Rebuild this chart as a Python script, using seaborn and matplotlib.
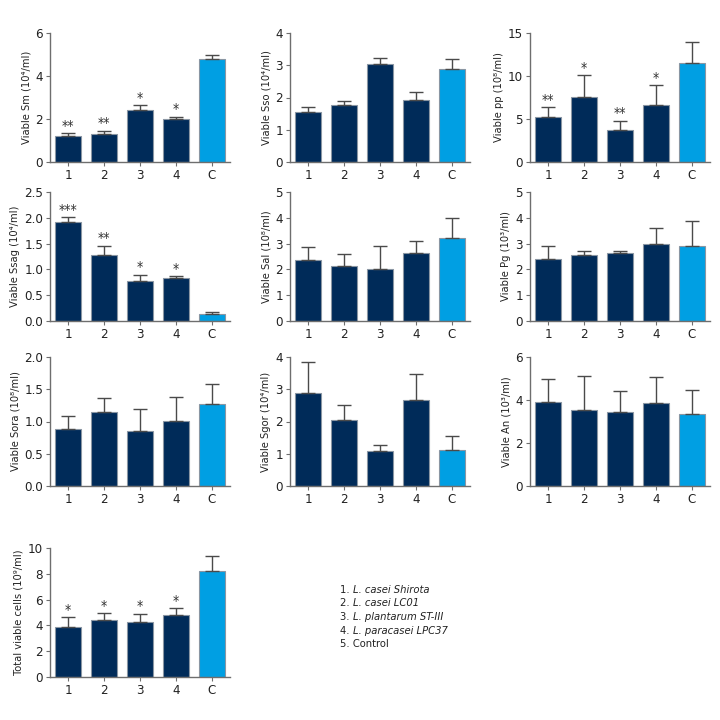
import numpy as np
import pandas as pd
import matplotlib
matplotlib.use('Agg')
import matplotlib.pyplot as plt
import seaborn as sns

groups = ['1', '2', '3', '4', 'C']

sm_mean = [1.2, 1.3, 2.4, 2.0, 4.8]
sm_top = [1.35, 1.45, 2.65, 2.1, 5.0]
sm_sig = ['**', '**', '*', '*', '']

sso_mean = [1.55, 1.78, 3.03, 1.92, 2.88]
sso_top = [1.72, 1.88, 3.23, 2.17, 3.2]
sso_sig = ['', '', '', '', '']

pp_mean = [5.2, 7.6, 3.7, 6.6, 11.5]
pp_top = [6.4, 10.1, 4.8, 8.9, 13.9]
pp_sig = ['**', '*', '**', '*', '']

ssag_mean = [1.92, 1.27, 0.78, 0.84, 0.14]
ssag_top = [2.01, 1.46, 0.90, 0.87, 0.17]
ssag_sig = ['***', '**', '*', '*', '']

sal_mean = [2.35, 2.13, 2.03, 2.65, 3.2]
sal_top = [2.88, 2.58, 2.92, 3.12, 4.0]
sal_sig = ['', '', '', '', '']

pg_mean = [2.4, 2.55, 2.62, 2.98, 2.9]
pg_top = [2.92, 2.73, 2.7, 3.62, 3.88]
pg_sig = ['', '', '', '', '']

sora_mean = [0.89, 1.15, 0.86, 1.01, 1.27]
sora_top = [1.09, 1.36, 1.2, 1.38, 1.58]
sora_sig = ['', '', '', '', '']

sgor_mean = [2.87, 2.05, 1.1, 2.68, 1.13]
sgor_top = [3.83, 2.52, 1.28, 3.47, 1.56]
sgor_sig = ['', '', '', '', '']

an_mean = [3.9, 3.55, 3.45, 3.88, 3.33]
an_top = [5.0, 5.1, 4.42, 5.07, 4.45]
an_sig = ['', '', '', '', '']

tot_mean = [3.9, 4.45, 4.25, 4.8, 8.2]
tot_top = [4.65, 4.95, 4.9, 5.35, 9.4]
tot_sig = ['*', '*', '*', '*', '']

legend_lines = ['1. ', '2. ', '3. ', '4. ', '5. Control']
legend_names = ['L. casei Shirota', 'L. casei LC01', 'L. plantarum ST-III', 'L. paracasei LPC37', '']

panels = [
    ('Viable Sm (10⁴/ml)', sm_mean, sm_top, sm_sig, 6, 2, '{:.0f}'),
    ('Viable Sso (10⁴/ml)', sso_mean, sso_top, sso_sig, 4, 1, '{:.0f}'),
    ('Viable pp (10⁸/ml)', pp_mean, pp_top, pp_sig, 15, 5, '{:.0f}'),
    ('Viable Ssag (10⁴/ml)', ssag_mean, ssag_top, ssag_sig, 2.5, 0.5, '{:.1f}'),
    ('Viable Sal (10⁸/ml)', sal_mean, sal_top, sal_sig, 5, 1, '{:.0f}'),
    ('Viable Pg (10³/ml)', pg_mean, pg_top, pg_sig, 5, 1, '{:.0f}'),
    ('Viable Sora (10⁸/ml)', sora_mean, sora_top, sora_sig, 2.0, 0.5, '{:.1f}'),
    ('Viable Sgor (10⁴/ml)', sgor_mean, sgor_top, sgor_sig, 4, 1, '{:.0f}'),
    ('Viable An (10³/ml)', an_mean, an_top, an_sig, 6, 2, '{:.0f}'),
    ('Total viable cells (10⁹/ml)', tot_mean, tot_top, tot_sig, 10, 2, '{:.0f}'),
]

sns.set_theme(style='ticks')
plt.rcParams['font.family'] = ['DejaVu Sans']
plt.rcParams['font.stretch'] = 'condensed'

navy = '#002b59'
light = '#009fe3'
axis_grey = '#6e6e6e'
palette = {g: navy for g in groups[:4]}
palette['C'] = light

fig = plt.figure(figsize=(7.2, 7.2), dpi=100)

col_left = [50, 290, 530]
row_bottom = [162, 321, 486, 677]
ax_w, ax_h = 180, 129

for i, (label, mean, top, sig, ymax, step, fmt) in enumerate(panels):
    r, c = divmod(i, 3)
    ax = fig.add_axes([col_left[c] / 720, 1 - row_bottom[r] / 720, ax_w / 720, ax_h / 720])
    df = pd.DataFrame({'group': groups, 'value': mean})
    sns.barplot(data=df, x='group', y='value', hue='group', palette=palette, saturation=1,
                width=0.72, edgecolor='#8a96a3', linewidth=0.8, legend=False, ax=ax)
    err = np.array(top) - np.array(mean)
    ax.errorbar(np.arange(5), mean, yerr=[np.zeros(5), err], fmt='none',
                ecolor='#4a4a4a', elinewidth=1.0, capsize=5, capthick=1.0, zorder=1)
    for x, t, s in zip(np.arange(5), top, sig):
        if s:
            ax.text(x, t + ymax * 0.003, s, ha='center', va='bottom', fontsize=10, color='#333333')
    ax.set_xlim(-0.5, 4.5)
    ax.set_ylim(0, ymax)
    ticks = np.arange(0, ymax + step / 2, step)
    ax.set_yticks(ticks)
    ax.set_yticklabels([fmt.format(t) for t in ticks])
    ax.set_xlabel('')
    ax.set_ylabel(label, fontsize=8, color='#222222', labelpad=3)
    sns.despine(ax=ax)
    for sp in ['left', 'bottom']:
        ax.spines[sp].set_color(axis_grey)
        ax.spines[sp].set_linewidth(1.0)
    ax.tick_params(axis='both', labelsize=9.5, colors=axis_grey, labelcolor='#222222',
                   length=3, width=0.8, pad=2)

for k, (num, name) in enumerate(zip(legend_lines, legend_names)):
    y = 1 - (590 + k * 13.5) / 720
    if name:
        t = fig.text(340 / 720, y, num, fontsize=8, va='center', ha='left', color='#222222')
        fig.canvas.draw()
        bb = t.get_window_extent()
        fig.text(bb.x1 / 720, y, name, fontsize=8, va='center', ha='left',
                 style='italic', color='#222222')
    else:
        fig.text(340 / 720, y, num, fontsize=8, va='center', ha='left', color='#222222')

fig.savefig('out.png', dpi=100)
